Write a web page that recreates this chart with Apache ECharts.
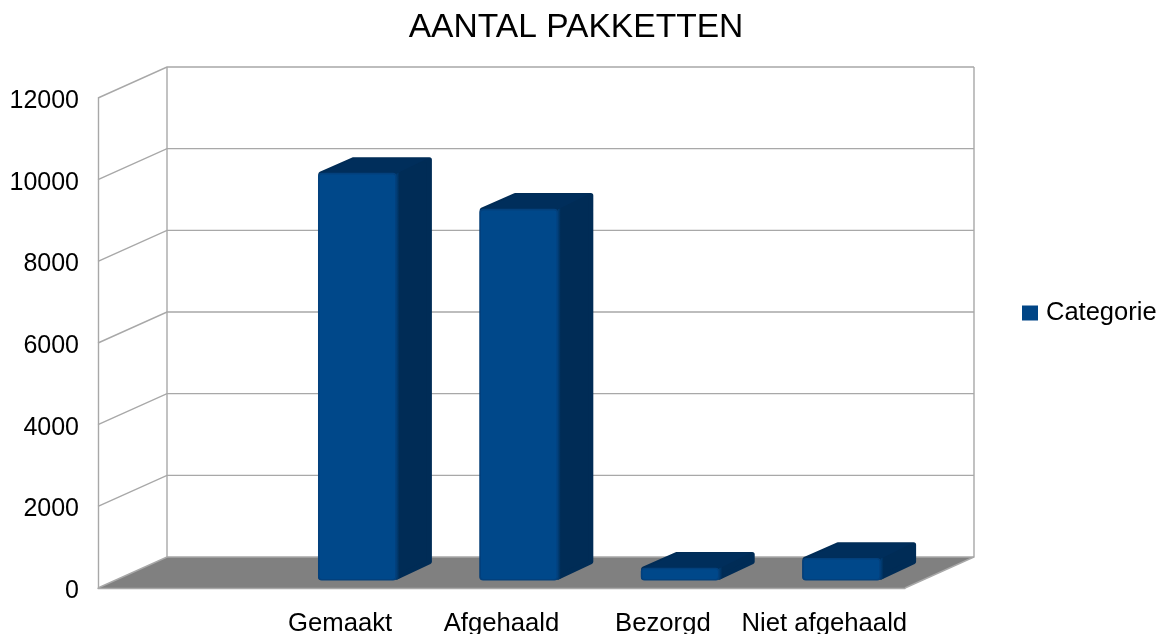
<!DOCTYPE html>
<html>
<head>
<meta charset="utf-8">
<style>html,body{margin:0;padding:0;background:#fff}#c{width:1159px;height:634px}</style>
<script src="https://cdn.jsdelivr.net/npm/echarts@6/dist/echarts.min.js"></script>
</head>
<body>
<div id="c"></div>
<script>
var titleText = 'AANTAL PAKKETTEN';
var seriesName = 'Categorie';
var categories = ['', 'Gemaakt', 'Afgehaald', 'Bezorgd', 'Niet afgehaald'];
var packetValues = [null, 9970, 9090, 300, 540];
var yTicks = [0, 2000, 4000, 6000, 8000, 10000, 12000];

var FONT = '"Liberation Sans", Arial, sans-serif';
var DEPTH_X = 69, DEPTH_Y = -31;
var WALL = '#a8a8a8', FLOOR = '#808080';
var FRONT = '#00488a', SIDE = '#002c56', TOPC = '#002e5b', EDGE = '#03407c';
var SWATCH = '#004586';

var chart = echarts.init(document.getElementById('c'), null, {renderer: 'canvas'});

function renderWall(params, api) {
  var cs = params.coordSys, v = api.value(0);
  var y = api.coord([0, v])[1];
  var left = cs.x, right = cs.x + cs.width;
  var lineStyle = {stroke: WALL, lineWidth: 1.4, fill: null};
  var children = [];
  if (v === 0) {
    children.push({type: 'polygon', shape: {points: [[left, y], [left + DEPTH_X, y + DEPTH_Y], [right + DEPTH_X, y + DEPTH_Y], [right, y]]}, style: {fill: FLOOR}});
    children.push({type: 'polyline', shape: {points: [[left + DEPTH_X, cs.y + DEPTH_Y], [left + DEPTH_X, y + DEPTH_Y]]}, style: lineStyle});
    children.push({type: 'polyline', shape: {points: [[right + DEPTH_X, cs.y + DEPTH_Y], [right + DEPTH_X, y + DEPTH_Y], [right, y]]}, style: lineStyle});
  }
  children.push({type: 'polyline', shape: {points: [[left, y], [left + DEPTH_X, y + DEPTH_Y], [right + DEPTH_X, y + DEPTH_Y]]}, style: lineStyle});
  return {type: 'group', silent: true, children: children};
}

function renderBar(params, api) {
  var idx = api.value(0), v = api.value(1);
  var p0 = api.coord([idx, 0]), p1 = api.coord([idx, v]);
  var band = api.size([1, 0])[0];
  var w = band * 0.484;
  var sx = DEPTH_X * 0.25, sy = DEPTH_Y * 0.25;
  var dx = DEPTH_X * 0.5, dy = DEPTH_Y * 0.5;
  var x0 = p0[0] + sx - w / 2, x1 = x0 + w;
  var yb = p0[1] + sy - 0.5, yt = p1[1] + sy + 0.5;
  var i = 2.5;
  var outline = [
    [x0 + i, yt + 0.5], [x0 + dx + 1, yt + dy + i - 1], [x1 + dx - i + 1, yt + dy + i - 1],
    [x1 + dx - i + 1, yb + dy - i], [x1, yb - i], [x0 + i, yb - i]
  ];
  var sheen = [[x1, yt], [x1 + 3, yt - 1.5], [x1 + 3, yb - 1.5], [x1, yb]];
  return {type: 'group', children: [
    {type: 'polygon', shape: {points: outline}, style: {fill: SIDE, stroke: SIDE, lineWidth: 5, lineJoin: 'round'}},
    {type: 'polygon', shape: {points: [[x0 + 3, yt], [x0 + dx + 2, yt + dy], [x1 + dx - 3, yt + dy], [x1, yt]]}, style: {fill: TOPC}},
    {type: 'polygon', shape: {points: sheen}, style: {fill: new echarts.graphic.LinearGradient(0, 0, 1, 0, [
      {offset: 0, color: '#013f78'}, {offset: 1, color: SIDE}
    ])}},
    {type: 'rect', shape: {x: x0 + 0.5, y: yt, width: w - 1, height: yb - yt, r: 3}, style: {fill: FRONT, stroke: EDGE, lineWidth: 1.6}}
  ]};
}

chart.setOption({
  animation: false,
  backgroundColor: '#ffffff',
  title: {
    text: titleText, left: 571, top: 6, textAlign: 'center',
    textStyle: {fontFamily: FONT, fontSize: 33.6, fontWeight: 'normal', color: '#000'}
  },
  legend: {
    left: 1022, top: 300, padding: 0, itemWidth: 16, itemHeight: 15, itemGap: 0, selectedMode: false,
    data: [{name: seriesName, icon: 'rect', itemStyle: {color: SWATCH, borderWidth: 0}}],
    formatter: seriesName,
    textStyle: {fontFamily: FONT, fontSize: 25.5, color: '#000', padding: [0, 0, 0, 3]}
  },
  grid: {left: 98, right: 254, top: 98, bottom: 46, outerBoundsMode: 'none'},
  xAxis: {
    type: 'category', data: categories,
    axisTick: {show: false},
    axisLine: {show: true, lineStyle: {color: WALL, width: 1.4}},
    axisLabel: {fontFamily: FONT, fontSize: 25.7, color: '#000', margin: 23, interval: 0, hideOverlap: false},
    splitLine: {show: false}, z: 10
  },
  yAxis: {
    type: 'value', min: 0, max: 12000, interval: 2000,
    axisTick: {show: false},
    axisLine: {show: true, lineStyle: {color: WALL, width: 1.4}},
    axisLabel: {fontFamily: FONT, fontSize: 25, color: '#000', margin: 19, verticalAlign: 'top', lineHeight: 6,
      formatter: function (v) { return String(v); }},
    splitLine: {show: false}
  },
  series: [
    {
      type: 'custom', name: 'walls', coordinateSystem: 'cartesian2d', silent: true, clip: false, z: 1,
      data: yTicks.map(function (t) { return [t]; }),
      encode: {y: 0}, renderItem: renderWall
    },
    {
      type: 'custom', name: seriesName, coordinateSystem: 'cartesian2d', clip: false, z: 3,
      itemStyle: {color: SWATCH},
      data: packetValues.map(function (v, i) { return v === null ? null : [i, v]; }).filter(Boolean),
      encode: {x: 0, y: 1}, renderItem: renderBar
    }
  ]
});
</script>
</body>
</html>
